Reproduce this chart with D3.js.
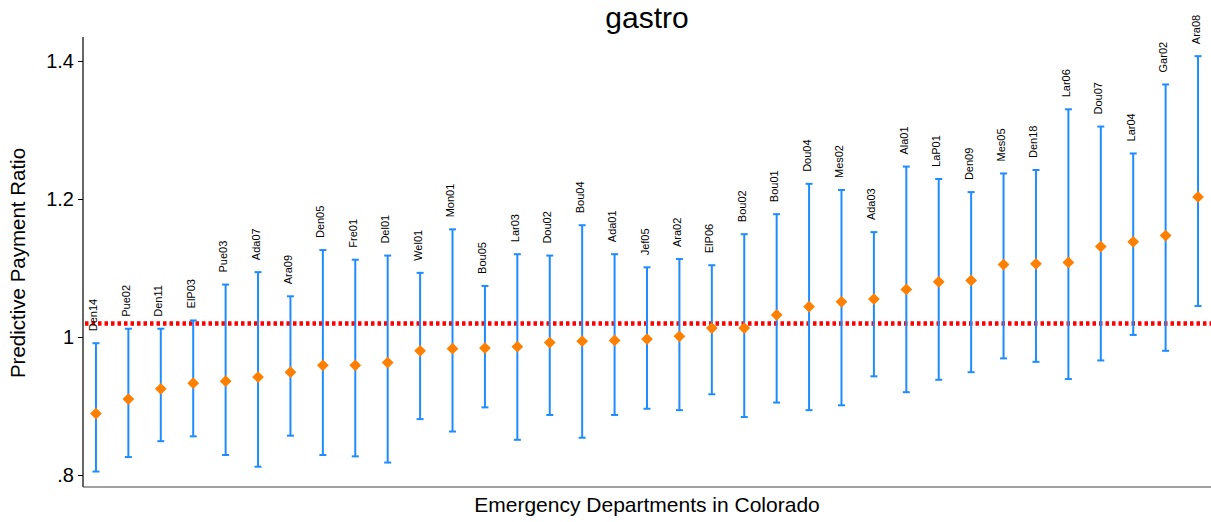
<!DOCTYPE html>
<html>
<head>
<meta charset="utf-8">
<script src="https://cdn.jsdelivr.net/npm/d3@7"></script>
<style>
  html, body { margin: 0; padding: 0; background: #fff; }
  svg { display: block; font-family: "Liberation Sans", Arial, Helvetica, sans-serif; }
</style>
</head>
<body>
<svg id="chart" width="1211" height="522"></svg>
<script>
// Emergency departments, ordered by predicted payment ratio
const departments = ["Den14","Pue02","Den11","ElP03","Pue03","Ada07","Ara09","Den05","Fre01","Del01",
  "Wel01","Mon01","Bou05","Lar03","Dou02","Bou04","Ada01","Jef05","Ara02","ElP06",
  "Bou02","Bou01","Dou04","Mes02","Ada03","Ala01","LaP01","Den09","Mes05","Den18",
  "Lar06","Dou07","Lar04","Gar02","Ara08"];

// Point estimate of the predictive payment ratio
const estimate = [0.889,0.910,0.925,0.933,0.936,0.942,0.949,0.959,0.959,0.963,
  0.980,0.983,0.984,0.986,0.992,0.994,0.995,0.997,1.001,1.013,
  1.013,1.032,1.044,1.051,1.055,1.069,1.080,1.082,1.105,1.106,
  1.108,1.131,1.138,1.147,1.203];

// Lower and upper interval bounds
const lower = [0.805,0.826,0.849,0.856,0.829,0.812,0.857,0.829,0.827,0.818,
  0.881,0.863,0.898,0.851,0.887,0.854,0.887,0.896,0.894,0.917,
  0.884,0.905,0.894,0.901,0.943,0.920,0.938,0.949,0.969,0.964,
  0.939,0.966,1.003,0.980,1.045];
const upper = [0.991,1.012,1.012,1.024,1.076,1.094,1.059,1.126,1.112,1.118,
  1.093,1.156,1.074,1.120,1.118,1.162,1.120,1.101,1.113,1.104,
  1.149,1.178,1.222,1.213,1.152,1.247,1.229,1.210,1.237,1.242,
  1.330,1.305,1.266,1.366,1.407];

// Overall reference ratio
const referenceRatio = [1.0195];

const yTicks = [0.8, 1.0, 1.2, 1.4];
const yTickLabels = [".8", "1", "1.2", "1.4"];

const svg = d3.select("#chart");
const margin = { left: 83, right: 0, top: 37, bottom: 35 };
const W = 1211, H = 522;

const x = d3.scaleLinear()
  .domain([-0.4, departments.length - 1 + 0.4])
  .range([margin.left, W - margin.right]);

const y = d3.scaleLinear()
  .domain([0.8, 1.4])
  .range([475, 61]);

const bottomY = H - margin.bottom;

// Axes
const yAxis = d3.axisLeft(y)
  .tickValues(yTicks)
  .tickFormat((d, i) => yTickLabels[i])
  .tickSize(5)
  .tickPadding(4);

const gy = svg.append("g")
  .attr("transform", `translate(${margin.left},0)`)
  .call(yAxis);
gy.select(".domain").remove();
gy.selectAll(".tick line").attr("stroke", "#000").attr("stroke-width", 1);
gy.selectAll(".tick text")
  .attr("font-size", 20)
  .attr("fill", "#000")
  .attr("font-family", "\"Liberation Sans\", Arial, sans-serif");

svg.append("line")
  .attr("x1", margin.left).attr("x2", margin.left)
  .attr("y1", margin.top).attr("y2", bottomY)
  .attr("stroke", "#000").attr("stroke-width", 1.2);

svg.append("line")
  .attr("x1", margin.left).attr("x2", W)
  .attr("y1", bottomY).attr("y2", bottomY)
  .attr("stroke", "#444").attr("stroke-width", 1.2);

// Reference line
svg.selectAll("line.ref")
  .data(referenceRatio)
  .join("line")
  .attr("class", "ref")
  .attr("x1", margin.left + 2).attr("x2", W)
  .attr("y1", d => y(d)).attr("y2", d => y(d))
  .attr("stroke", "#ff0000")
  .attr("stroke-width", 4.5)
  .attr("stroke-dasharray", "3.5,3");

const rows = departments.map((name, i) => ({
  name, i, est: estimate[i], lo: lower[i], hi: upper[i]
}));

const blue = "#1e8cff";
const orange = "#ff7f00";
const capHalf = 3.5;

const g = svg.append("g");

// Interval bars with caps
g.selectAll("line.bar").data(rows).join("line")
  .attr("class", "bar")
  .attr("x1", d => x(d.i)).attr("x2", d => x(d.i))
  .attr("y1", d => y(d.lo)).attr("y2", d => y(d.hi))
  .attr("stroke", blue).attr("stroke-width", 2);

g.selectAll("line.capHi").data(rows).join("line")
  .attr("class", "capHi")
  .attr("x1", d => x(d.i) - capHalf).attr("x2", d => x(d.i) + capHalf)
  .attr("y1", d => y(d.hi)).attr("y2", d => y(d.hi))
  .attr("stroke", blue).attr("stroke-width", 2);

g.selectAll("line.capLo").data(rows).join("line")
  .attr("class", "capLo")
  .attr("x1", d => x(d.i) - capHalf).attr("x2", d => x(d.i) + capHalf)
  .attr("y1", d => y(d.lo)).attr("y2", d => y(d.lo))
  .attr("stroke", blue).attr("stroke-width", 2);

// Point estimates as diamonds
const diamond = d3.symbol().type(d3.symbolDiamond2).size(88);
g.selectAll("path.pt").data(rows).join("path")
  .attr("class", "pt")
  .attr("d", diamond)
  .attr("transform", d => `translate(${x(d.i)},${y(d.est)})`)
  .attr("fill", orange);

// Department labels above each interval
g.selectAll("text.lab").data(rows).join("text")
  .attr("class", "lab")
  .attr("transform", d => `translate(${x(d.i) + 1.5},${y(d.hi) - 12}) rotate(-90)`)
  .attr("font-size", 11)
  .attr("fill", "#000")
  .text(d => d.name);

// Titles
svg.append("text")
  .attr("x", (margin.left + W) / 2).attr("y", 28)
  .attr("text-anchor", "middle")
  .attr("font-size", 30)
  .text("gastro");

svg.append("text")
  .attr("x", (margin.left + W) / 2).attr("y", 512)
  .attr("text-anchor", "middle")
  .attr("font-size", 21)
  .text("Emergency Departments in Colorado");

svg.append("text")
  .attr("transform", `translate(25,${263}) rotate(-90)`)
  .attr("text-anchor", "middle")
  .attr("font-size", 20.5)
  .text("Predictive Payment Ratio");
</script>
</body>
</html>
